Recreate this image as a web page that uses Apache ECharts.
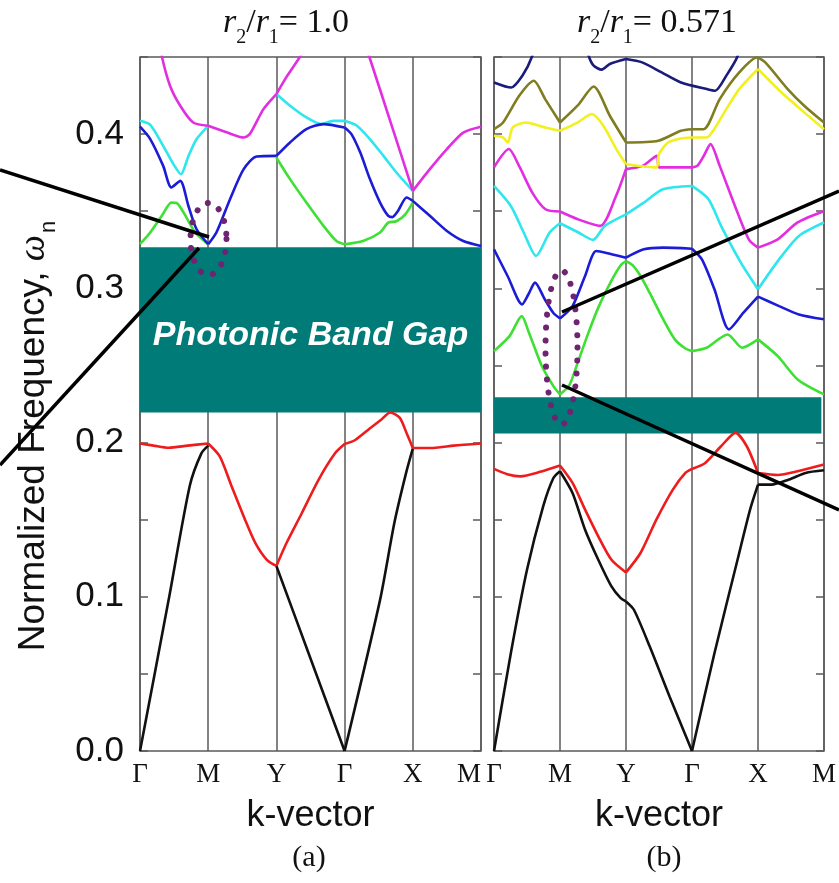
<!DOCTYPE html>
<html>
<head>
<meta charset="utf-8">
<script src="https://cdn.jsdelivr.net/npm/echarts@6/dist/echarts.min.js"></script>
<style>
  html, body { margin: 0; padding: 0; background: #fff; }
  #chart { width: 839px; height: 883px; }
</style>
</head>
<body>
<div id="chart"></div>
<script>
// k-path labels, x = 0..5
var kLabels = ['Γ', 'M', 'Y', 'Γ', 'X', 'M'];
var ratioA = '1.0', ratioB = '0.571';

// band gaps [bottom, top] and right end of gap (b)
var gapA = [0.2195, 0.3266];
var gapB = [0.2059, 0.2293];
var gapBEnd = 4.96;

// (a) r2/r1 = 1.0
var aBlack1 = [[0,0],[0.42,0.098],[0.73,0.172],[0.9,0.193],[1,0.198]];
var aBlack2 = [[2,0.12],[2.5,0.06],[3,0],[3.52,0.098],[3.73,0.148],[3.9,0.18],[4,0.196]];
var aRed = [[0,0.1994],[0.2,0.198],[0.42,0.1966],[0.7,0.198],[1,0.1994],[1.17,0.191],[1.34,0.172],[1.54,0.15],[1.69,0.135],[1.86,0.124],[2,0.12],[2.15,0.135],[2.37,0.154],[2.62,0.176],[2.86,0.193],[3,0.199],[3.15,0.2015],[3.35,0.2084],[3.54,0.215],[3.67,0.2195],[3.81,0.216],[3.91,0.206],[4,0.1965],[4.3,0.1965],[4.6,0.198],[5,0.1994]];
var aGreen1 = [[0,0.3286],[0.15,0.3362],[0.32,0.347],[0.46,0.3556],[0.54,0.3552],[0.64,0.3491],[0.81,0.3362],[1,0.3286]];
var aGreen2 = [[2,0.3847],[2.2,0.3708],[2.44,0.3556],[2.69,0.3405],[2.88,0.3307],[3,0.3286],[3.27,0.3307],[3.52,0.3362],[3.64,0.3426],[3.76,0.3435],[3.89,0.348],[4,0.3556]];
var aCyan1 = [[0,0.4086],[0.15,0.406],[0.34,0.3924],[0.49,0.3805],[0.6,0.374],[0.71,0.3857],[0.83,0.3968],[1,0.4054]];
var aCyan2 = [[2,0.426],[2.2,0.4184],[2.44,0.4108],[2.66,0.4065],[2.83,0.4086],[3,0.4086],[3.18,0.4054],[3.37,0.3968],[3.57,0.3859],[3.76,0.3751],[4,0.3632]];
var aBlue = [[0,0.4048],[0.15,0.3968],[0.34,0.3794],[0.46,0.3654],[0.59,0.3697],[0.71,0.3534],[0.83,0.3383],[1,0.3286],[1.12,0.3362],[1.32,0.3578],[1.52,0.3773],[1.71,0.3855],[2,0.3859],[2.2,0.3946],[2.44,0.4032],[2.69,0.4065],[3,0.4043],[3.1,0.4],[3.23,0.388],[3.37,0.371],[3.52,0.3556],[3.64,0.347],[3.7,0.3462],[3.78,0.35],[3.91,0.3589],[4,0.3567],[4.25,0.347],[4.5,0.3372],[4.74,0.3307],[5,0.3275]];
var aMagenta1 = [[0.22,0.475],[0.32,0.4505],[0.44,0.4314],[0.59,0.4184],[0.78,0.4075],[1,0.4054],[1.28,0.401],[1.52,0.3978],[1.61,0.4],[1.81,0.4162],[2,0.426],[2.16,0.4379],[2.35,0.4505],[2.5,0.465]];
var aMagenta2 = [[3.2,0.472],[3.36,0.4505],[3.68,0.407],[4,0.3632],[4.25,0.3773],[4.5,0.3903],[4.74,0.401],[5,0.4048]];

// (b) r2/r1 = 0.571
var bBlack = [[0,0],[0.255,0.0634],[0.5,0.1175],[0.745,0.1586],[0.9,0.177],[1,0.1814],[1.19,0.1673],[1.38,0.1435],[1.58,0.124],[1.78,0.1067],[1.92,0.0991],[2,0.097],[2.12,0.0916],[2.36,0.0677],[2.66,0.0353],[3,0],[3.34,0.0634],[3.69,0.124],[3.88,0.1565],[4,0.1727],[4.2,0.1727],[4.47,0.176],[4.72,0.1803],[5,0.182]];
var bRed = [[0,0.1829],[0.2,0.1795],[0.4,0.1781],[0.7,0.181],[1,0.1851],[1.19,0.1738],[1.38,0.1565],[1.58,0.1392],[1.78,0.124],[2,0.1158],[2.22,0.1284],[2.46,0.15],[2.71,0.1695],[2.9,0.1803],[3,0.1829],[3.2,0.1868],[3.44,0.1976],[3.66,0.2063],[3.83,0.1976],[4,0.1803],[4.3,0.179],[4.6,0.1814],[5,0.1857]];
var bGreen = [[0,0.2593],[0.235,0.269],[0.42,0.282],[0.53,0.2712],[0.725,0.2496],[0.9,0.2366],[1,0.2312],[1.14,0.237],[1.27,0.252],[1.42,0.27],[1.58,0.2875],[1.78,0.305],[1.92,0.315],[2,0.3177],[2.1,0.315],[2.22,0.308],[2.36,0.297],[2.55,0.281],[2.74,0.2669],[2.9,0.261],[3,0.2593],[3.22,0.2615],[3.54,0.2701],[3.76,0.2615],[4,0.2669],[4.3,0.256],[4.6,0.2409],[5,0.2312]];
var bBlue = [[0,0.3253],[0.206,0.308],[0.426,0.2896],[0.52,0.296],[0.622,0.3037],[0.769,0.2929],[0.9,0.284],[1,0.2805],[1.19,0.2885],[1.38,0.308],[1.55,0.3242],[1.78,0.3221],[2,0.3199],[2.27,0.3253],[2.56,0.3264],[3,0.3257],[3.15,0.3188],[3.34,0.2994],[3.56,0.2734],[3.78,0.2842],[4,0.2946],[4.32,0.2885],[4.62,0.2831],[5,0.2799]];
var bCyan = [[0,0.3664],[0.255,0.3534],[0.45,0.3362],[0.637,0.321],[0.843,0.3362],[1,0.3422],[1.28,0.3362],[1.5,0.3314],[1.68,0.3405],[2,0.348],[2.27,0.3556],[2.56,0.3643],[3,0.3664],[3.25,0.3578],[3.44,0.3405],[3.74,0.3167],[4,0.2994],[4.32,0.3188],[4.62,0.334],[5,0.3427]];
var bMagenta = [[0,0.3784],[0.225,0.3903],[0.38,0.3794],[0.58,0.3621],[0.78,0.3513],[1,0.3498],[1.27,0.3448],[1.61,0.3405],[1.85,0.36],[2,0.3773],[2.25,0.3794],[2.47,0.3859],[2.5,0.3784],[2.75,0.3784],[3,0.3784],[3.08,0.3794],[3.18,0.386],[3.28,0.3935],[3.42,0.3794],[3.67,0.3513],[3.86,0.3318],[4,0.3264],[4.3,0.3318],[4.6,0.3427],[5,0.3502]];
var bYellow = [[0,0.3989],[0.137,0.3978],[0.21,0.3946],[0.284,0.4043],[0.48,0.4075],[0.775,0.4043],[1,0.4022],[1.265,0.4075],[1.485,0.413],[1.657,0.4054],[1.853,0.3903],[2,0.3805],[2.46,0.3784],[2.5,0.387],[2.637,0.3946],[2.833,0.3972],[3,0.3978],[3.225,0.3978],[3.32,0.4022],[3.52,0.4162],[3.716,0.4292],[4,0.4422],[4.353,0.4271],[4.7,0.4141],[5,0.4032]];
var bOlive = [[0,0.4032],[0.137,0.4075],[0.382,0.4249],[0.603,0.4346],[0.775,0.4227],[1,0.4075],[1.265,0.4184],[1.51,0.4309],[1.755,0.4119],[2,0.3946],[2.49,0.3957],[2.833,0.4022],[3,0.4032],[3.176,0.4032],[3.42,0.4227],[3.716,0.44],[3.985,0.4497],[4.11,0.4465],[4.45,0.4292],[4.7,0.4184],[5,0.4075]];
var bNavy = [[0,0.4335],[0.26,0.4302],[0.43,0.4379],[0.578,0.4505],[0.7,0.47],[1.3,0.47],[1.436,0.4505],[1.51,0.4444],[1.632,0.4418],[1.755,0.4455],[2,0.4487],[2.245,0.4465],[2.54,0.44],[2.833,0.4335],[3.225,0.4292],[3.35,0.4281],[3.52,0.4379],[3.69,0.4505],[3.8,0.47]];

var C = {
    black: '#111111', red: '#ee1c1c', green: '#3de033', cyan: '#2ee6ee',
    blue: '#1c1cd6', magenta: '#e22ee0', yellow: '#f2f01e', olive: '#7f7d1f',
    navy: '#1b1b7c', teal: '#007b78', frame: '#5a5a5a', dots: '#6e2470'
};

var chart = echarts.init(document.getElementById('chart'));

// cut a band at the high-symmetry points so the kinks there stay sharp
function pieces(data) {
    var out = [], cur = [data[0]];
    for (var i = 1; i < data.length; i++) {
        cur.push(data[i]);
        if (Number.isInteger(data[i][0]) && i < data.length - 1) {
            out.push(cur);
            cur = [data[i]];
        }
    }
    out.push(cur);
    return out;
}

function band(data, color, g, extra) {
    return pieces(data).map(function (part, k) {
        var s = {
            type: 'line', data: part, xAxisIndex: g, yAxisIndex: g * 2,
            showSymbol: false, smooth: 0.25, silent: true,
            lineStyle: { color: color, width: 2.6 }
        };
        if (extra && k === 0) s.markArea = extra;
        return s;
    });
}

function gapArea(y0, y1, x1, text) {
    return {
        silent: true,
        itemStyle: { color: C.teal, opacity: 1 },
        label: {
            show: !!text, position: 'inside', formatter: text || '', offset: [0, 6],
            color: '#fff', fontSize: 34, fontWeight: 'bold', fontStyle: 'italic',
            fontFamily: 'Liberation Sans'
        },
        data: [[{ coord: [0, y0] }, { coord: [x1, y1] }]]
    };
}

function xAxis(g) {
    return {
        type: 'value', gridIndex: g, min: 0, max: 5, interval: 1,
        axisLine: { show: false }, axisTick: { show: false },
        splitLine: { show: true, lineStyle: { color: C.frame, width: 1.5 } },
        axisLabel: {
            margin: 10, color: '#111', fontSize: 27, fontFamily: 'Liberation Serif',
            alignMaxLabel: g === 0 ? 'right' : 'center',
            formatter: function (v) { return kLabels[Math.round(v)]; }
        },
        name: 'k-vector', nameLocation: 'middle', nameGap: 47,
        nameTextStyle: { fontSize: 36, color: '#111', fontFamily: 'Liberation Sans' }
    };
}

function yAxis(g, pos, labels) {
    return {
        type: 'value', gridIndex: g, position: pos, min: 0, max: 0.45, interval: 0.05,
        axisLine: { show: false }, splitLine: { show: false },
        axisTick: { show: true, inside: true, length: 8, lineStyle: { color: C.frame, width: 1.5 } },
        axisLabel: {
            show: labels, margin: 16, color: '#111', fontSize: 35, fontFamily: 'Liberation Sans',
            formatter: function (v) {
                var r = Math.round(v * 100);
                return r % 10 === 0 ? (r / 100).toFixed(1) : '';
            }
        }
    };
}

function ellipse(cx, cy, rx, ry) {
    var pts = [];
    for (var i = 0; i <= 96; i++) {
        var t = i / 96 * Math.PI * 2;
        pts.push([cx + rx * Math.cos(t), cy + ry * Math.sin(t)]);
    }
    return {
        type: 'polyline', z: 100, shape: { points: pts },
        style: { stroke: C.dots, lineWidth: 6, lineDash: [0.01, 13], lineCap: 'round', fill: null }
    };
}

function stick(x1, y1, x2, y2) {
    return {
        type: 'line', z: 101, shape: { x1: x1, y1: y1, x2: x2, y2: y2 },
        style: { stroke: '#000', lineWidth: 3.5 }
    };
}

function ratioTitle(x, value) {
    return {
        type: 'text', x: x, y: 6, z: 50,
        style: {
            text: '{i|r}{s|2}{n|/}{i|r}{s|1}{n|= ' + value + '}',
            align: 'center', verticalAlign: 'top',
            rich: {
                i: { fontSize: 34, fontStyle: 'italic', fontFamily: 'Liberation Serif', lineHeight: 34, verticalAlign: 'top', fill: '#111' },
                n: { fontSize: 34, fontFamily: 'Liberation Serif', lineHeight: 34, verticalAlign: 'top', fill: '#111' },
                s: { fontSize: 20, fontFamily: 'Liberation Serif', lineHeight: 20, padding: [22, 0, 0, 0], verticalAlign: 'top', fill: '#111' }
            }
        }
    };
}

var series = [].concat(
    band(aBlack1, C.black, 0, gapArea(gapA[0], gapA[1], 5, 'Photonic Band Gap')),
    band(aBlack2, C.black, 0),
    band(aRed, C.red, 0),
    band(aGreen1, C.green, 0),
    band(aGreen2, C.green, 0),
    band(aCyan1, C.cyan, 0),
    band(aCyan2, C.cyan, 0),
    band(aBlue, C.blue, 0),
    band(aMagenta1, C.magenta, 0),
    band(aMagenta2, C.magenta, 0),

    band(bBlack, C.black, 1, gapArea(gapB[0], gapB[1], gapBEnd, '')),
    band(bRed, C.red, 1),
    band(bGreen, C.green, 1),
    band(bCyan, C.cyan, 1),
    band(bBlue, C.blue, 1),
    band(bMagenta, C.magenta, 1),
    band(bYellow, C.yellow, 1),
    band(bOlive, C.olive, 1),
    band(bNavy, C.navy, 1)
);

var option = {
    animation: false,
    backgroundColor: '#fff',
    grid: [
        { left: 140, top: 57, width: 341, height: 694, show: true, borderColor: C.frame, borderWidth: 1.5, backgroundColor: 'transparent' },
        { left: 494, top: 57, width: 340, height: 694, show: true, borderColor: C.frame, borderWidth: 1.5, backgroundColor: 'transparent' }
    ],
    xAxis: [xAxis(0), xAxis(1)],
    yAxis: [yAxis(0, 'left', true), yAxis(0, 'right', false), yAxis(1, 'left', false), yAxis(1, 'right', false)],
    series: series,
    graphic: [
        ratioTitle(286, ratioA),
        ratioTitle(657, ratioB),
        {
            type: 'text', x: 34, y: 436, rotation: Math.PI / 2, z: 50,
            style: {
                text: '{a|Normalized Frequency, }{w|ω}{s|n}',
                align: 'center', verticalAlign: 'middle',
                rich: {
                    a: { fontSize: 37, fontFamily: 'Liberation Sans', lineHeight: 37, verticalAlign: 'top', fill: '#111' },
                    w: { fontSize: 37, fontFamily: 'Liberation Serif', fontStyle: 'italic', lineHeight: 37, verticalAlign: 'top', fill: '#111' },
                    s: { fontSize: 22, fontFamily: 'Liberation Sans', lineHeight: 22, padding: [22, 0, 0, 2], verticalAlign: 'top', fill: '#111' }
                }
            }
        },
        {
            type: 'text', x: 309, y: 858, z: 50,
            style: { text: '(a)', font: '30px "Liberation Serif"', fill: '#111', align: 'center', verticalAlign: 'middle' }
        },
        {
            type: 'text', x: 664, y: 858, z: 50,
            style: { text: '(b)', font: '30px "Liberation Serif"', fill: '#111', align: 'center', verticalAlign: 'middle' }
        },
        ellipse(208.5, 239, 18, 36),
        ellipse(561.5, 347.5, 16, 77),
        stick(0, 170, 209, 237),
        stick(0, 465, 199, 248),
        stick(562, 312, 839, 191),
        stick(562, 385, 839, 510)
    ]
};

chart.setOption(option);
</script>
</body>
</html>
